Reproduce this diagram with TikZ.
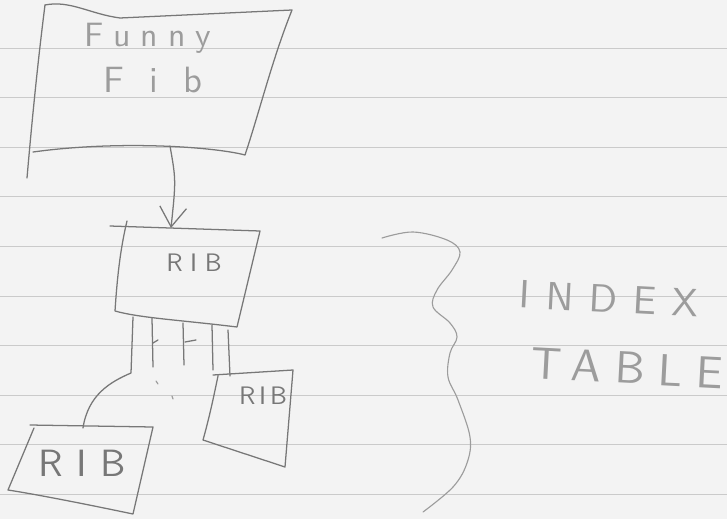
\documentclass[tikz,border=0pt]{standalone}
\usepackage{fontspec}
\newfontfamily\handfont{lmsans10-regular}[Extension=.otf]
\usetikzlibrary{arrows.meta}
\definecolor{paper}{HTML}{F3F3F3}
\definecolor{ruling}{HTML}{CACACA}
\definecolor{pencil}{HTML}{777777}
\definecolor{faint}{HTML}{9C9C9C}
\tikzset{
    pencil/.style={draw=pencil, line width=0.9pt, line cap=round, line join=round},
    light/.style={draw=faint, line width=0.8pt, line cap=round},
    hand/.style n args={3}{text=#2, inner sep=0pt,
        font=\handfont\fontsize{#1}{#1}\selectfont\addfontfeature{LetterSpace=#3}},
}
\begin{document}
\begin{tikzpicture}[x=0.025cm, y=-0.025cm]
    \useasboundingbox (0,0) rectangle (727,519);
    % paper with ruled lines
    \fill[paper] (0,0) rectangle (727,519);
    \foreach \k in {0,...,9}
        \draw[ruling, line width=0.7pt] (0,48+49.6*\k) -- (727,48+49.6*\k);

    % Funny Fib (top)
    \draw[pencil] (45,5) .. controls (70,0) and (90,14) .. (120,18) -- (292,10)
        .. controls (272,60) and (260,110) .. (245,155)
        .. controls (215,147) and (120,140) .. (33,152);
    \draw[pencil] (45,5) .. controls (38,60) and (32,120) .. (27,178);
    \node[hand={24}{faint}{30}] (funny) at (148,38) {Funny};
    \node[hand={26}{faint}{70}] (fib) at (153,80) {Fib};
    \coordinate (fibout) at (170,146);

    % RIB (middle)
    \draw[pencil] (110,226) -- (260,231) -- (237,327)
        .. controls (180,320) and (140,318) .. (115,311)
        .. controls (117,280) and (120,250) .. (127,221);
    \node[hand={18}{pencil}{30}] (ribtop) at (194,263) {RIB};
    \coordinate (ribin) at (171,228);
    \draw[pencil, -{Straight Barb[length=14pt, width=19pt]}] (fibout) .. controls (176,180) .. (ribin);

    % legs below the middle RIB
    \draw[pencil] (133,317) -- (131,373) .. controls (110,382) and (88,395) .. (83,428);
    \draw[pencil] (152,318) -- (153,367);
    \draw[pencil] (183,323) -- (184,365);
    \draw[pencil] (212,325) -- (213,370);
    \draw[pencil] (228,330) -- (230,376);
    \draw[pencil] (153,343) -- (158,340);
    \draw[pencil] (185,342) -- (196,340);
    \draw[light] (156,381) -- (158,384) (172,396) -- (173,399);

    % RIB (right, small)
    \draw[pencil] (213,375) -- (293,370) -- (285,467) -- (203,440)
        .. controls (210,415) and (214,395) .. (218,376);
    \node[hand={18}{pencil}{15}] (ribright) at (263,396) {RIB};

    % RIB (bottom left)
    \draw[pencil] (30,425) -- (153,427) -- (133,514)
        .. controls (90,505) and (40,495) .. (8,490) -- (34,428);
    \node[hand={27}{pencil}{35}] (ribleft) at (82,463) {RIB};

    % brace and index table (right)
    \draw[light] plot[smooth, tension=0.6] coordinates {(382,238) (413,232) (447,240) (460,252)
        (452,270) (437,290) (433,307) (450,323) (457,337) (450,353) (448,377)
        (458,400) (470,437) (467,463) (453,487) (423,512)};
    \node[hand={28}{faint}{40}, rotate=-3] (index) at (609,299) {INDEX};
    \node[hand={32}{faint}{30}, rotate=-3] (table) at (627,368) {TABLE};
\end{tikzpicture}
\end{document}
